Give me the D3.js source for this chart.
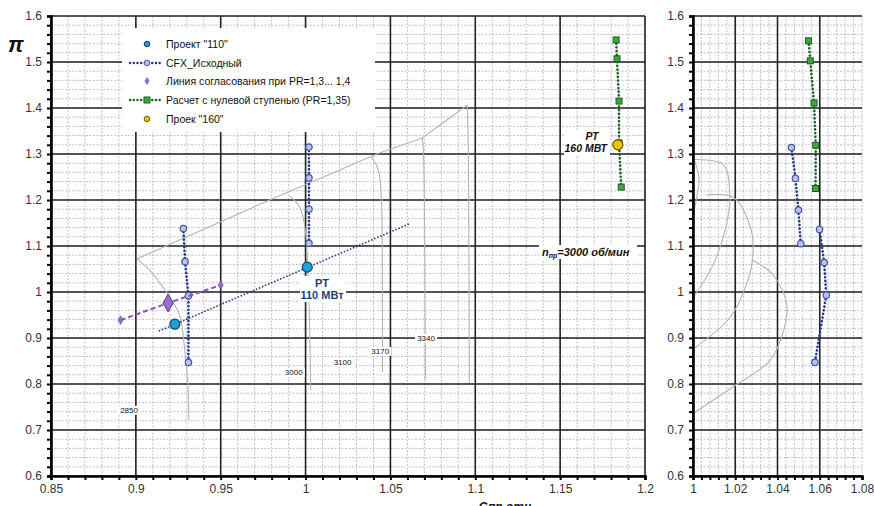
<!DOCTYPE html>
<html><head><meta charset="utf-8">
<script src="https://cdn.jsdelivr.net/npm/d3@7"></script>
<style>body{margin:0;background:#fff}svg{display:block}text{font-family:Arial,"Liberation Sans",sans-serif}</style>
</head><body>
<script>
// ---- data ----
const yTicks = [0.6,0.7,0.8,0.9,1.0,1.1,1.2,1.3,1.4,1.5,1.6];
const yTickLabels = ["0.6","0.7","0.8","0.9","1","1.1","1.2","1.3","1.4","1.5","1.6"];
const xTicksLeft = [0.85,0.9,0.95,1.0,1.05,1.1,1.15,1.2];
const xTickLabelsLeft = ["0.85","0.9","0.95","1","1.05","1.1","1.15","1.2"];
const xTicksRight = [1,1.02,1.04,1.06,1.08];
const xTickLabelsRight = ["1","1.02","1.04","1.06","1.08"];

const project110 = [[0.923,0.930],[1.001,1.054]];
const cfxLeftA = [[0.928,1.138],[0.929,1.066],[0.931,0.992],[0.931,0.847]];
const cfxLeftB = [[1.002,1.315],[1.002,1.248],[1.002,1.180],[1.002,1.106]];
const workLine = [[0.9135,0.915],[1.061,1.148]];
const matching = [[0.891,0.939],[0.919,0.976],[0.95,1.015]];
const zeroStageLeft = [[1.183,1.548],[1.1835,1.507],[1.1847,1.415],[1.1847,1.324],[1.186,1.228]];
const project160 = [[1.184,1.320]];

const zeroStageRight = [[1.0547,1.546],[1.0555,1.5025],[1.0573,1.411],[1.0581,1.319],[1.058,1.225]];
const cfxRightA = [[1.0466,1.314],[1.0485,1.247],[1.0499,1.178],[1.051,1.105]];
const cfxRightB = [[1.0599,1.136],[1.0621,1.064],[1.0631,0.993],[1.0577,0.847]];

const surgeLine = [[0.9006,1.072],[0.9788,1.200],[1.0435,1.302],[1.0688,1.335],[1.0953,1.4065]];
const speed2850 = [[0.9006,1.072],[0.908,1.048],[0.914,1.020],[0.920,0.989],[0.9259,0.948],[0.9288,0.874],[0.9306,0.802],[0.9312,0.722]];
const speed3000 = [[0.9906,1.209],[0.9965,1.185],[0.9994,1.146],[1.0012,1.07],[1.0024,0.917],[1.003,0.787]];
const speed3100 = [[1.0388,1.2935],[1.0429,1.265],[1.0447,1.2],[1.0453,0.983],[1.0453,0.826]];
const speed3170 = [[1.0688,1.335],[1.0694,1.309],[1.07,1.2],[1.0706,0.809]];
const speed3340 = [[1.0953,1.4065],[1.0959,1.309],[1.0965,0.802]];
const speedLabels = [["2850",0.896,0.744],["3000",0.993,0.826],["3100",1.0218,0.848],["3170",1.044,0.872],["3340",1.071,0.900]];

const rightCurveA = [[1.0008,1.288],[1.0143,1.277],[1.0174,1.216],[1.0158,1.145],[1.0095,1.059],[1.0,0.987]];
const rightCurveB = [[1.0063,1.211],[1.019,1.206],[1.0269,1.145],[1.0285,1.087],[1.0253,1.016],[1.0174,0.944],[1.0,0.876]];
const rightCurveC = [[1.0277,1.070],[1.038,1.037],[1.0444,0.973],[1.0428,0.915],[1.0364,0.851],[1.019,0.794],[1.0,0.736]];
const rightArc = [[1.0008,1.285],[1.0029,1.245],[1.0016,1.202],[1.0003,1.173]];

const legendItems = ["Проект \"110\"","CFX_Исходный","Линия согласования при PR=1,3... 1,4","Расчет с нулевой ступенью (PR=1,35)","Проек \"160\""];

// ---- drawing ----
const W=874,H=506;
const svg=d3.select("body").append("svg").attr("width",W).attr("height",H);
const yTop=16,yBot=476;

const C={cyan:"#1aa3d6",cyanEdge:"#17406e",blue:"#27348b",mk:"#b9c3e6",mkEdge:"#4654a3",green:"#1d5e22",gfill:"#3ea83e",purple:"#8a52c4",pfill:"#9a6ed0",pedge:"#55307f",yellow:"#f2c200",grey:"#b4b4b4"};

function panel(x0,x1,xmin,xmax,xMinor,xTicks,rightMajor){
  const x=d3.scaleLinear().domain([xmin,xmax]).range([x0,x1]);
  const y=d3.scaleLinear().domain([0.6,1.6]).range([yBot,yTop]);
  const g=svg.append("g");
  const xm=d3.range(Math.round((xmax-xmin)/xMinor)+1).map(i=>xmin+i*xMinor);
  const ym=d3.range(51).map(i=>0.6+i*0.02);
  g.selectAll(null).data(xm).join("line").attr("x1",d=>x(d)).attr("x2",d=>x(d)).attr("y1",yTop).attr("y2",yBot)
    .attr("stroke","#a9b0c0").attr("stroke-width",0.8).attr("stroke-dasharray","2,1.5");
  g.selectAll(null).data(ym).join("line").attr("y1",d=>y(d)).attr("y2",d=>y(d)).attr("x1",x0).attr("x2",x1)
    .attr("stroke","#a9b0c0").attr("stroke-width",0.8).attr("stroke-dasharray","2,1.5");
  const xMaj = rightMajor? xTicks : xTicks.slice(0,-1);
  g.selectAll(null).data(xMaj).join("line").attr("x1",d=>x(d)).attr("x2",d=>x(d)).attr("y1",yTop).attr("y2",yBot)
    .attr("stroke","#222").attr("stroke-width",1.6);
  g.selectAll(null).data(yTicks).join("line").attr("y1",d=>y(d)).attr("y2",d=>y(d)).attr("x1",x0).attr("x2",x1)
    .attr("stroke","#222").attr("stroke-width",1.6);
  return {x,y,g};
}
function axes(p,xMinor,xTicks,xLabels,xmin,xmax){
  const {x,y}=p;
  const ga=svg.append("g");
  const ax=d3.axisLeft(y).tickValues(d3.range(51).map(i=>0.6+i*0.02)).tickSize(4).tickFormat("");
  const gy=ga.append("g").attr("transform",`translate(${x.range()[0]},0)`).call(ax);
  gy.selectAll("line").attr("stroke","#000").attr("stroke-width",2);
  gy.select(".domain").attr("stroke","#000").attr("stroke-width",2.6);
  const ly=d3.axisLeft(y).tickValues(yTicks).tickSize(0).tickPadding(9).tickFormat((d,i)=>yTickLabels[i]);
  const gl=ga.append("g").attr("transform",`translate(${x.range()[0]},0)`).call(ly);
  gl.select(".domain").remove();
  gl.selectAll("text").attr("font-size",12).attr("fill","#333").attr("font-family","Arial");
  const n=Math.round((xmax-xmin)/xMinor)+1;
  const bx=d3.axisBottom(x).tickValues(d3.range(n).map(i=>xmin+i*xMinor)).tickSize(4).tickFormat("");
  const gx=ga.append("g").attr("transform",`translate(0,${yBot})`).call(bx);
  gx.selectAll("line").attr("stroke","#000").attr("stroke-width",2);
  gx.select(".domain").attr("stroke","#000").attr("stroke-width",2.6);
  const lx=d3.axisBottom(x).tickValues(xTicks).tickSize(0).tickPadding(8).tickFormat((d,i)=>xLabels[i]);
  const gxl=ga.append("g").attr("transform",`translate(0,${yBot})`).call(lx);
  gxl.select(".domain").remove();
  gxl.selectAll("text").attr("font-size",12).attr("fill","#333").attr("font-family","Arial");
}

const L=panel(51,645,0.85,1.2,0.01,xTicksLeft,true);
const R=panel(693,862,1.0,1.08,0.004,xTicksRight,false);

function curve(p,data,stroke,w,dash,ctype){
  const ln=d3.line().x(d=>p.x(d[0])).y(d=>p.y(d[1])).curve(ctype||d3.curveLinear);
  svg.append("path").attr("d",ln(data)).attr("fill","none").attr("stroke",stroke).attr("stroke-width",w)
    .attr("stroke-dasharray",dash||null).attr("stroke-linecap",dash&&dash.startsWith("0")?"round":"butt");
}
curve(L,surgeLine,C.grey,1.1,null,d3.curveLinear);
[speed2850,speed3000,speed3100,speed3170,speed3340].forEach(s=>curve(L,s,C.grey,1.1,null,d3.curveCatmullRom));
[rightCurveA,rightCurveB,rightCurveC,rightArc].forEach(s=>curve(R,s,C.grey,1.1,null,d3.curveCatmullRom));

speedLabels.forEach(([t,vx,vy])=>{
  const tx=L.x(vx),ty=L.y(vy)+3;
  svg.append("rect").attr("x",tx-11).attr("y",ty-7).attr("width",22).attr("height",9).attr("fill","#fff");
  svg.append("text").attr("x",tx).attr("y",ty).attr("text-anchor","middle").attr("font-size",8).attr("fill","#111").text(t);
});

curve(L,workLine,C.blue,1.6,"1.5,1.8",d3.curveLinear);
function cfx(p,data){
  curve(p,data,C.blue,2.6,"0.1,3.6",d3.curveLinear);
  svg.append("g").selectAll(null).data(data).join("circle").attr("cx",d=>p.x(d[0])).attr("cy",d=>p.y(d[1])).attr("r",3.2)
    .attr("fill",C.mk).attr("stroke",C.mkEdge).attr("stroke-width",1.2);
}
cfx(L,cfxLeftA);cfx(L,cfxLeftB);cfx(R,cfxRightA);cfx(R,cfxRightB);
curve(L,matching,C.purple,2,"5,3",d3.curveLinear);
const sym=d3.symbol().type(d3.symbolDiamond);
svg.append("g").selectAll(null).data(matching).join("path")
  .attr("transform",d=>`translate(${L.x(d[0])},${L.y(d[1])})`)
  .attr("d",(d,i)=>sym.size(i===1?90:22)())
  .attr("fill",C.pfill).attr("stroke",C.pedge).attr("stroke-width",(d,i)=>i===1?1:0.5);
function zs(p,data){
  curve(p,data,C.green,2.6,"0.1,3.6",d3.curveLinear);
  svg.append("g").selectAll(null).data(data).join("rect").attr("x",d=>p.x(d[0])-3).attr("y",d=>p.y(d[1])-3)
    .attr("width",6).attr("height",6).attr("fill",C.gfill).attr("stroke",C.green).attr("stroke-width",1);
}
zs(L,zeroStageLeft);zs(R,zeroStageRight);
svg.append("g").selectAll(null).data(project110).join("circle").attr("cx",d=>L.x(d[0])).attr("cy",d=>L.y(d[1])).attr("r",5)
  .attr("fill",C.cyan).attr("stroke",C.cyanEdge).attr("stroke-width",1.2);
svg.append("g").selectAll(null).data(project160).join("circle").attr("cx",d=>L.x(d[0])).attr("cy",d=>L.y(d[1])).attr("r",5)
  .attr("fill",C.yellow).attr("stroke","#6a5a00").attr("stroke-width",1.2);

axes(L,0.01,xTicksLeft,xTickLabelsLeft,0.85,1.2);
axes(R,0.004,xTicksRight,xTickLabelsRight,1.0,1.08);

function box(x,y,w,h){svg.append("rect").attr("x",x).attr("y",y).attr("width",w).attr("height",h).attr("fill","#fff");}
box(300,276,46,26);
svg.append("text").attr("x",322).attr("y",287).attr("text-anchor","middle").attr("font-size",11).attr("font-weight","bold").attr("fill","#1d3f7a").text("РТ");
svg.append("text").attr("x",322).attr("y",299).attr("text-anchor","middle").attr("font-size",11).attr("font-weight","bold").attr("fill","#1d3f7a").text("110 МВт");
box(564,130,46,26);
svg.append("text").attr("x",592).attr("y",140).attr("text-anchor","middle").attr("font-size",10.5).attr("font-weight","bold").attr("font-style","italic").attr("fill","#111").text("РТ");
svg.append("text").attr("x",607).attr("y",152).attr("text-anchor","end").attr("font-size",10.5).attr("font-weight","bold").attr("font-style","italic").attr("fill","#111").text("160 МВТ");
box(539,245,98,14);
const nt=svg.append("text").attr("x",542).attr("y",256).attr("font-size",11).attr("font-weight","bold").attr("font-style","italic").attr("fill","#111").attr("font-family","'Liberation Serif',serif");
nt.append("tspan").text("n");
nt.append("tspan").attr("font-size",7).attr("dy",2).text("пр");
nt.append("tspan").attr("dy",-2).text("=3000 об/мин");

box(122,28,253,104);
const ly0=[44,63,81,100,119];
legendItems.forEach((t,i)=>{
  svg.append("text").attr("x",166).attr("y",ly0[i]+4).attr("font-size",10.5).attr("fill","#111").text(t);
});
svg.append("circle").attr("cx",147).attr("cy",44).attr("r",2.8).attr("fill",C.cyan).attr("stroke",C.cyanEdge);
svg.append("line").attr("x1",130).attr("x2",163).attr("y1",63).attr("y2",63).attr("stroke",C.blue).attr("stroke-width",2.4).attr("stroke-dasharray","0.1,3.6").attr("stroke-linecap","round");
svg.append("circle").attr("cx",147).attr("cy",63).attr("r",2.8).attr("fill",C.mk).attr("stroke",C.mkEdge);
svg.append("path").attr("transform","translate(147,81)").attr("d",d3.symbol().type(d3.symbolDiamond).size(22)()).attr("fill",C.pfill);
svg.append("line").attr("x1",130).attr("x2",163).attr("y1",100).attr("y2",100).attr("stroke",C.green).attr("stroke-width",2.4).attr("stroke-dasharray","0.1,3.6").attr("stroke-linecap","round");
svg.append("rect").attr("x",144).attr("y",97).attr("width",6).attr("height",6).attr("fill",C.gfill).attr("stroke",C.green);
svg.append("circle").attr("cx",147).attr("cy",119).attr("r",2.8).attr("fill",C.yellow).attr("stroke","#6a5a00");

svg.append("text").attr("x",8).attr("y",52).attr("font-size",22).attr("font-weight","bold").attr("font-style","italic").attr("font-family","'Liberation Serif',serif").attr("fill","#111").text("π");
svg.append("text").attr("x",505).attr("y",511).attr("text-anchor","middle").attr("font-size",12).attr("font-weight","bold").attr("font-style","italic").attr("fill","#111").text("Gпр отн");
</script>
</body></html>
